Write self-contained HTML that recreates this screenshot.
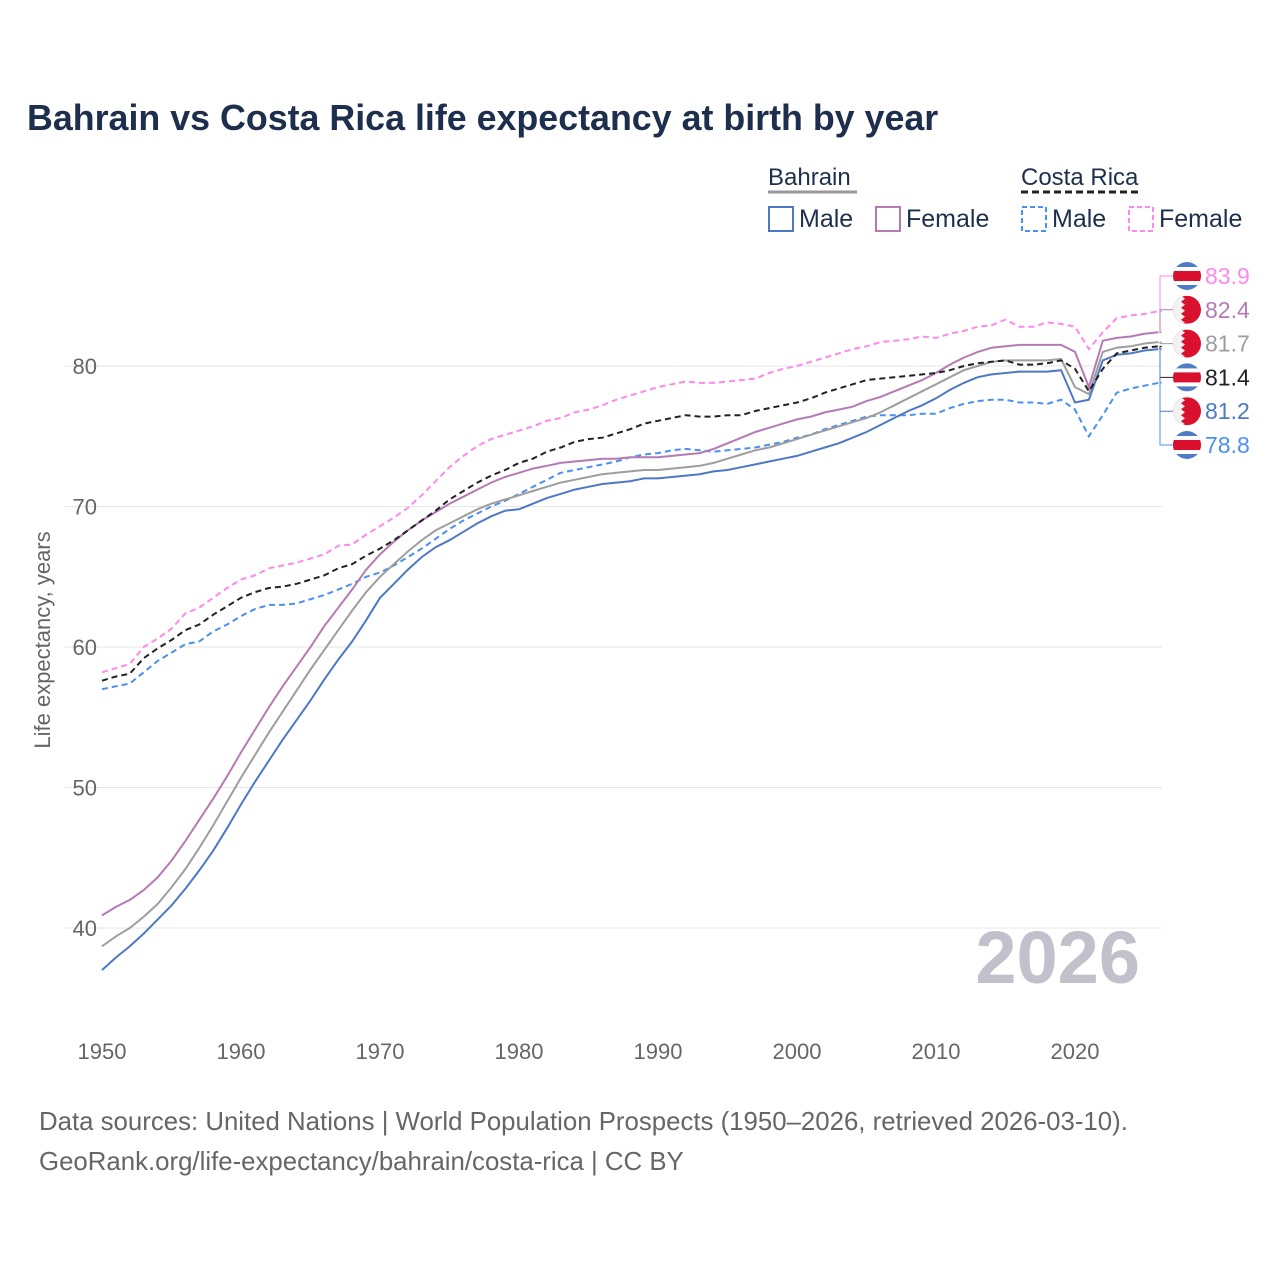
<!DOCTYPE html>
<html><head><meta charset="utf-8"><style>
body{margin:0;background:#fff;font-family:"Liberation Sans",sans-serif}
svg text{font-family:"Liberation Sans",sans-serif}
</style></head><body>
<svg id="chart" width="1280" height="1280" viewBox="0 0 1280 1280">
<text x="27" y="130" font-size="35.8" font-weight="bold" fill="#1e2f4d">Bahrain vs Costa Rica life expectancy at birth by year</text>
<g>
<text x="768" y="185" font-size="24" fill="#1e2f4d">Bahrain</text>
<line x1="768" y1="192" x2="857" y2="192" stroke="#999" stroke-width="3"/>
<text x="1021" y="185" font-size="24" fill="#1e2f4d">Costa Rica</text>
<line x1="1021" y1="192" x2="1141" y2="192" stroke="#222" stroke-width="3" stroke-dasharray="7,4"/>
<g><rect x="769" y="207" width="24" height="24" fill="none" stroke="#4d78c5" stroke-width="2"/><text x="799" y="227" font-size="25" fill="#1e2f4d">Male</text></g>
<g><rect x="876" y="207" width="24" height="24" fill="none" stroke="#b57ab5" stroke-width="2"/><text x="906" y="227" font-size="25" fill="#1e2f4d">Female</text></g>
<g><rect x="1022" y="207" width="24" height="24" fill="none" stroke="#4a90f0" stroke-width="2" stroke-dasharray="5,3"/><text x="1052" y="227" font-size="25" fill="#1e2f4d">Male</text></g>
<g><rect x="1129" y="207" width="24" height="24" fill="none" stroke="#ff88ee" stroke-width="2" stroke-dasharray="5,3"/><text x="1159" y="227" font-size="25" fill="#1e2f4d">Female</text></g>
</g>
<g id="grid"></g>
<text x="1140" y="983" text-anchor="end" font-size="74" font-weight="bold" fill="#c2c0cb">2026</text>
<text transform="translate(50,640) rotate(-90)" text-anchor="middle" font-size="22" fill="#666">Life expectancy, years</text>
<g id="lines"></g>
<g id="labels"></g>
<text x="39" y="1130" font-size="25.8" fill="#666">Data sources: United Nations | World Population Prospects (1950–2026, retrieved 2026-03-10).</text>
<text x="39" y="1170" font-size="25.8" fill="#666">GeoRank.org/life-expectancy/bahrain/costa-rica | CC BY</text>
</svg>
<script>
const startYear = 1950;
const xTicks = [1950,1960,1970,1980,1990,2000,2010,2020];
const yTicks = [40,50,60,70,80];
const bahrainMale = [37.0,37.9,38.7,39.6,40.6,41.6,42.8,44.1,45.5,47.1,48.8,50.4,51.9,53.4,54.8,56.2,57.7,59.1,60.4,61.9,63.5,64.5,65.5,66.4,67.1,67.6,68.2,68.8,69.3,69.7,69.8,70.2,70.6,70.9,71.2,71.4,71.6,71.7,71.8,72.0,72.0,72.1,72.2,72.3,72.5,72.6,72.8,73.0,73.2,73.4,73.6,73.9,74.2,74.5,74.9,75.3,75.8,76.3,76.8,77.2,77.7,78.3,78.8,79.2,79.4,79.5,79.6,79.6,79.6,79.7,77.4,77.6,80.4,80.8,80.9,81.1,81.2];
const bahrainFemale = [40.9,41.5,42.0,42.7,43.6,44.8,46.2,47.7,49.2,50.8,52.5,54.1,55.7,57.2,58.6,60.0,61.5,62.8,64.1,65.5,66.6,67.5,68.3,69.0,69.6,70.2,70.7,71.2,71.7,72.1,72.4,72.7,72.9,73.1,73.2,73.3,73.4,73.4,73.5,73.5,73.5,73.6,73.7,73.8,74.1,74.5,74.9,75.3,75.6,75.9,76.2,76.4,76.7,76.9,77.1,77.5,77.8,78.2,78.6,79.0,79.5,80.1,80.6,81.0,81.3,81.4,81.5,81.5,81.5,81.5,81.0,78.5,81.8,82.0,82.1,82.3,82.4];
const bahrainTotal = [38.7,39.4,40.0,40.8,41.7,42.9,44.2,45.7,47.3,49.0,50.7,52.3,53.9,55.4,56.9,58.4,59.8,61.2,62.6,63.9,65.0,65.9,66.8,67.6,68.3,68.8,69.3,69.8,70.2,70.5,70.8,71.1,71.4,71.7,71.9,72.1,72.3,72.4,72.5,72.6,72.6,72.7,72.8,72.9,73.1,73.4,73.7,74.0,74.2,74.5,74.8,75.1,75.4,75.7,76.0,76.3,76.7,77.2,77.7,78.2,78.7,79.2,79.7,80.0,80.3,80.4,80.4,80.4,80.4,80.5,78.5,78.0,81.0,81.3,81.4,81.6,81.7];
const costaTotal = [57.6,57.9,58.1,59.2,59.9,60.5,61.2,61.6,62.3,62.9,63.5,63.9,64.2,64.3,64.5,64.8,65.1,65.6,65.9,66.5,67.0,67.6,68.3,69.0,69.7,70.5,71.1,71.7,72.2,72.6,73.1,73.4,73.9,74.2,74.6,74.8,74.9,75.2,75.5,75.9,76.1,76.3,76.5,76.4,76.4,76.5,76.5,76.8,77.0,77.2,77.4,77.7,78.1,78.4,78.7,79.0,79.1,79.2,79.3,79.4,79.5,79.7,80.0,80.2,80.3,80.4,80.1,80.1,80.2,80.4,79.8,78.2,79.8,80.9,81.1,81.3,81.4];
const costaFemale = [58.2,58.5,58.8,60.0,60.6,61.3,62.4,62.8,63.5,64.2,64.8,65.1,65.6,65.8,66.0,66.3,66.6,67.2,67.3,68.0,68.6,69.2,69.9,70.8,71.8,72.8,73.6,74.3,74.8,75.1,75.4,75.7,76.1,76.3,76.7,76.9,77.2,77.6,77.9,78.2,78.5,78.7,78.9,78.8,78.8,78.9,79.0,79.1,79.5,79.8,80.0,80.3,80.6,80.9,81.2,81.4,81.7,81.8,81.9,82.1,82.0,82.3,82.5,82.8,82.9,83.3,82.8,82.8,83.1,83.0,82.8,81.2,82.4,83.4,83.6,83.7,83.9];
const costaMale = [57.0,57.2,57.4,58.2,59.0,59.6,60.2,60.4,61.1,61.6,62.2,62.7,63.0,63.0,63.1,63.4,63.7,64.1,64.5,65.0,65.3,65.8,66.4,67.0,67.7,68.4,69.0,69.5,70.0,70.4,70.9,71.4,71.9,72.4,72.6,72.8,73.0,73.2,73.5,73.7,73.8,74.0,74.1,74.0,73.9,74.0,74.1,74.2,74.4,74.6,74.9,75.1,75.5,75.8,76.1,76.4,76.5,76.5,76.5,76.6,76.6,77.0,77.3,77.5,77.6,77.6,77.4,77.4,77.3,77.6,76.9,75.0,76.5,78.1,78.4,78.6,78.8];

const NS='http://www.w3.org/2000/svg';
const x = yr => 102 + (yr-1950)*13.9;
const y = v => 366 + (80-v)*14.05;
function mk(tag, attrs, parent){const e=document.createElementNS(NS,tag);for(const k in attrs)e.setAttribute(k,attrs[k]);parent.appendChild(e);return e;}
const grid=document.getElementById('grid');
yTicks.forEach(t=>{
  const l=mk('line',{x1:65,x2:1162,y1:y(t),y2:y(t),stroke:'#e6e6e6','stroke-width':1},grid);
  
  
  const tx=mk('text',{x:97,y:y(t)+8,'text-anchor':'end','font-size':22,fill:'#666'},grid);
  tx.textContent=t;
  
  
});
xTicks.forEach(t=>{
  const tx=mk('text',{x:x(t),y:1059,'text-anchor':'middle','font-size':22,fill:'#666'},grid);
  tx.textContent=t;
  
  
});
const series=[
 {d:costaMale,c:'#4a90f0',dash:'6,4',n:'costa-rica-male'},
 {d:bahrainMale,c:'#4d78c5',dash:'',n:'bahrain-male'},
 {d:bahrainTotal,c:'#9e9e9e',dash:'',n:'bahrain-total'},
 {d:bahrainFemale,c:'#b57ab5',dash:'',n:'bahrain-female'},
 {d:costaTotal,c:'#222',dash:'6,4',n:'costa-rica-total'},
 {d:costaFemale,c:'#ff88ee',dash:'6,4',n:'costa-rica-female'}
];
const lines=document.getElementById('lines');
series.forEach(s=>{
  const p=s.d.map((v,i)=>(i?'L':'M')+x(startYear+i).toFixed(1)+','+y(v).toFixed(1)).join('');
  const a={d:p,fill:'none',stroke:s.c,'stroke-width':2};
  if(s.dash)a['stroke-dasharray']=s.dash;
  const e=mk('path',a,lines);
  
  
});
const labelOrder=[
 {d:costaFemale,c:'#ff88ee',f:'cr',n:'costa-rica-female'},
 {d:bahrainFemale,c:'#b57ab5',f:'bh',n:'bahrain-female'},
 {d:bahrainTotal,c:'#9e9e9e',f:'bh',n:'bahrain-total'},
 {d:costaTotal,c:'#222',f:'cr',n:'costa-rica-total'},
 {d:bahrainMale,c:'#4d78c5',f:'bh',n:'bahrain-male'},
 {d:costaMale,c:'#4a90f0',f:'cr',n:'costa-rica-male'}
];
const labels=document.getElementById('labels');
const defs=mk('defs',{},labels);
mk('circle',{id:'fc',cx:0,cy:0,r:14},mk('clipPath',{id:'flagclip'},defs));
labelOrder.forEach((s,i)=>{
  const ly=276+i*33.8;
  const vy=y(s.d[s.d.length-1]);
  const g=mk('g',{},labels);
  
  
  mk('path',{d:`M1162,${vy}H1160V${ly}H1173`,fill:'none',stroke:s.c,'stroke-width':1},g);
  const fg=mk('g',{transform:`translate(1187,${ly})`,'clip-path':'url(#flagclip)'},g);
  if(s.f==='cr'){
    mk('rect',{x:-14,y:-14,width:28,height:28,fill:'#4f7cc6'},fg);
    mk('rect',{x:-14,y:-9,width:28,height:18,fill:'#fff'},fg);
    mk('rect',{x:-14,y:-5,width:28,height:10,fill:'#d9102e'},fg);
  } else {
    mk('rect',{x:-14,y:-14,width:28,height:28,fill:'#d9102e'},fg);
    mk('path',{d:'M-14,-14H-6L-2,-11L-6,-8L-2,-5L-6,-2L-2,1L-6,4L-2,7L-6,10L-2,13L-6,14H-14Z',fill:'#f2f2f2'},fg);
  }
  const t=mk('text',{x:1205,y:ly+8,'font-size':23,fill:s.c},g);
  t.textContent=s.d[s.d.length-1].toFixed(1);
});
</script>
</body></html>
